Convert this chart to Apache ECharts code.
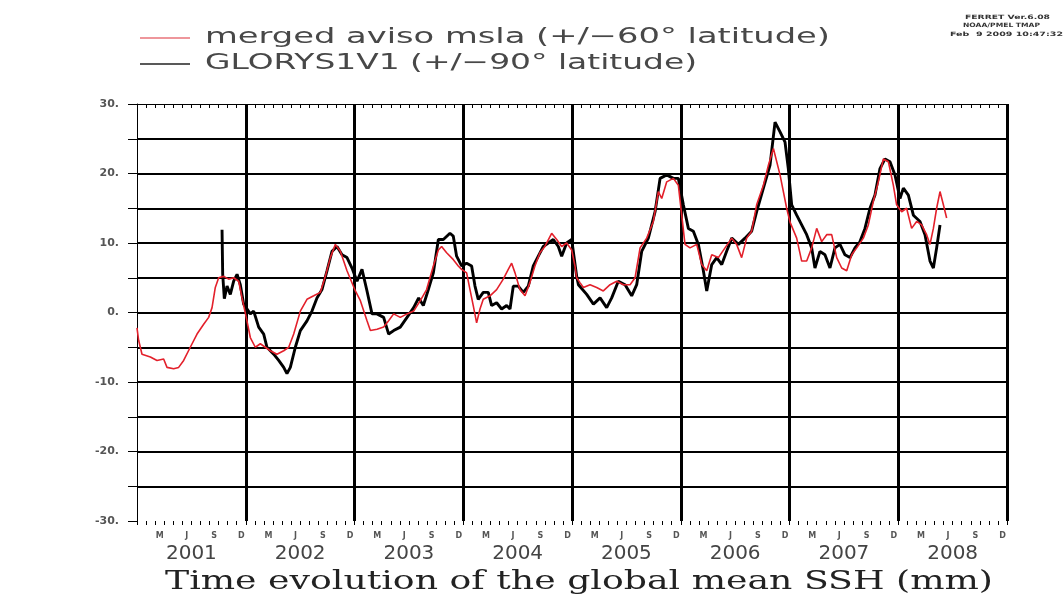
<!DOCTYPE html>
<html>
<head>
<meta charset="utf-8">
<script src="https://cdn.jsdelivr.net/npm/echarts@6/dist/echarts.min.js"></script>
<style>
html,body{margin:0;padding:0;background:#fff;}
#chart{width:1063px;height:598px;}
</style>
</head>
<body>
<div id="chart"></div>
<script>
// ---- data (decimal years, mm) ----
const redTimes = [2001.000,2001.015,2001.046,2001.123,2001.184,2001.245,2001.276,2001.337,2001.383,2001.429,2001.490,2001.552,2001.613,2001.659,2001.690,2001.720,2001.751,2001.797,2001.843,2001.889,2001.935,2001.966,
2002.011,2002.042,2002.088,2002.134,2002.180,2002.226,2002.287,2002.349,2002.395,2002.441,2002.502,2002.563,2002.625,2002.686,2002.732,2002.778,2002.824,2002.870,2002.931,
2003.008,2003.054,2003.115,2003.146,2003.207,2003.268,2003.314,2003.360,2003.421,2003.483,2003.544,2003.605,2003.663,2003.725,2003.771,2003.801,2003.847,2003.909,2003.954,2003.985,
2004.031,2004.062,2004.092,2004.123,2004.154,2004.184,2004.246,2004.307,2004.368,2004.414,2004.445,2004.476,2004.521,2004.568,2004.613,2004.659,2004.705,2004.751,2004.813,2004.859,2004.905,2004.951,2004.997,
2005.027,2005.043,2005.073,2005.105,2005.166,2005.227,2005.288,2005.350,2005.411,2005.472,2005.534,2005.580,2005.626,2005.687,2005.748,2005.794,2005.825,2005.871,2005.932,2005.978,
2006.009,2006.039,2006.085,2006.147,2006.193,2006.239,2006.285,2006.346,2006.407,2006.469,2006.514,2006.560,2006.606,2006.652,2006.698,2006.760,2006.806,2006.852,2006.913,2006.974,
2007.005,2007.066,2007.112,2007.158,2007.204,2007.250,2007.296,2007.342,2007.388,2007.434,2007.480,2007.526,2007.572,2007.618,2007.679,2007.725,2007.771,2007.817,2007.863,2007.909,2007.955,2007.985,
2008.031,2008.077,2008.123,2008.169,2008.215,2008.261,2008.292,2008.323,2008.353,2008.384,2008.415,2008.445];
const redValues = [-2.2,-4.0,-6.0,-6.4,-6.9,-6.7,-7.9,-8.1,-7.9,-6.9,-5.0,-3.1,-1.7,-0.7,0.7,3.6,5.0,5.2,4.8,5.0,4.5,2.1,
-1.2,-3.6,-5.0,-4.5,-5.0,-5.5,-6.0,-5.5,-5.0,-3.1,0.2,1.9,2.4,2.9,5.2,7.9,9.8,8.8,6.0,
3.1,1.7,-1.2,-2.6,-2.4,-2.1,-1.2,-0.2,-0.7,-0.2,0.2,1.7,3.3,6.7,9.0,9.5,8.6,7.6,6.7,6.2,
5.7,3.3,1.0,-1.5,0.5,1.9,2.4,3.3,4.8,6.2,7.1,5.7,3.3,2.4,4.3,6.7,8.6,9.5,11.4,10.5,9.5,10.0,9.0,
6.7,5.0,4.3,3.6,4.0,3.6,3.1,4.0,4.5,4.0,4.0,5.0,9.3,10.7,13.1,17.4,16.4,18.8,19.3,18.3,
14.0,9.8,9.3,9.8,6.9,6.0,8.3,7.9,9.3,10.7,9.8,7.9,10.7,11.7,15.5,18.3,21.2,23.6,19.8,15.0,
13.0,10.7,7.4,7.4,9.3,12.1,10.2,11.2,11.2,7.9,6.4,6.0,8.3,9.3,10.7,12.6,16.0,18.8,22.1,21.7,18.3,15.5,
14.5,15.0,12.1,13.1,12.6,11.2,9.8,12.1,15.0,17.4,15.5,13.6];

const blackTimes = [2001.782,2001.788,2001.803,2001.828,2001.858,2001.889,2001.920,2001.950,2001.981,
2002.042,2002.073,2002.119,2002.165,2002.195,2002.257,2002.303,2002.349,2002.379,2002.410,2002.456,2002.502,2002.563,2002.609,2002.655,2002.701,2002.747,2002.793,2002.839,2002.885,2002.931,2002.977,
2003.023,2003.069,2003.115,2003.161,2003.207,2003.268,2003.314,2003.360,2003.421,2003.483,2003.544,2003.590,2003.633,2003.679,2003.725,2003.771,2003.817,2003.878,2003.908,2003.939,2003.985,
2004.031,2004.077,2004.108,2004.138,2004.184,2004.230,2004.261,2004.307,2004.353,2004.399,2004.430,2004.460,2004.506,2004.552,2004.598,2004.644,2004.690,2004.736,2004.782,2004.828,2004.874,2004.905,2004.951,2004.997,
2005.043,2005.059,2005.135,2005.197,2005.258,2005.319,2005.365,2005.426,2005.488,2005.549,2005.595,2005.641,2005.702,2005.764,2005.810,2005.871,2005.932,2005.978,
2006.024,2006.070,2006.116,2006.162,2006.208,2006.239,2006.285,2006.331,2006.377,2006.422,2006.469,2006.530,2006.591,2006.652,2006.698,2006.760,2006.821,2006.867,2006.913,2006.959,2006.989,
2007.020,2007.066,2007.112,2007.158,2007.204,2007.234,2007.280,2007.326,2007.372,2007.418,2007.464,2007.510,2007.556,2007.602,2007.648,2007.694,2007.740,2007.786,2007.832,2007.878,2007.924,2007.970,
2008.016,2008.047,2008.093,2008.139,2008.200,2008.246,2008.292,2008.323,2008.353,2008.384];
const blackValues = [11.9,5.5,2.0,3.8,2.6,4.5,5.5,4.0,1.2,
-0.2,0.2,-2.1,-3.1,-5.0,-6.0,-6.9,-7.9,-8.8,-7.9,-5.0,-2.6,-1.2,0.2,2.1,3.3,6.0,8.8,9.5,8.3,7.9,6.4,
4.5,6.2,3.1,-0.2,-0.2,-0.7,-3.1,-2.6,-2.1,-0.7,0.7,2.1,1.0,3.3,5.7,10.5,10.5,11.4,11.0,8.1,6.7,
7.1,6.7,3.8,1.9,2.9,2.9,1.0,1.4,0.5,1.0,0.5,3.8,3.8,2.9,3.8,6.7,8.1,9.5,10.0,10.5,9.5,8.1,10.0,10.5,
5.2,4.0,2.6,1.2,2.1,0.7,2.1,4.5,4.0,2.4,4.0,8.8,10.7,14.5,19.3,19.8,19.3,19.3,
15.5,12.1,11.7,9.8,6.0,3.1,6.9,7.9,6.9,8.8,10.7,9.8,10.7,11.7,14.5,17.9,21.2,27.4,26.0,24.5,20.7,
15.5,14.0,12.6,11.2,9.3,6.4,8.8,8.3,6.4,9.3,9.8,8.3,7.9,9.3,10.2,12.1,15.0,16.9,20.7,22.1,21.7,19.8,
16.4,17.9,16.9,14.0,13.1,11.2,7.4,6.4,9.3,12.6];

const seriesNames = ['merged aviso msla (+/\u221260\u00b0 latitude)', 'GLORYS1V1 (+/\u221290\u00b0 latitude)'];
const monthLetters = ['J','F','M','A','M','J','J','A','S','O','N','D'];
const yearLabels = ['2001','2002','2003','2004','2005','2006','2007','2008'];
const yTickLabels = {30:'30.',20:'20.',10:'10.',0:'0.','-10':'-10.','-20':'-20.','-30':'-30.'};
const chartTitle = 'Time evolution of the global mean SSH (mm)';
const stampLines = ['FERRET Ver.6.08', 'NOAA/PMEL TMAP', 'Feb  9 2009 10:47:32'];

// ---- build ----
const zip = (a, b) => a.map((t, i) => [t, b[i]]);
const monthCats = [];
yearLabels.forEach(y => monthLetters.forEach(m => monthCats.push(m)));

const measureCtx = document.createElement('canvas').getContext('2d');
function fitScale(text, font, target) {
  measureCtx.font = font;
  return target / measureCtx.measureText(text).width;
}
const legendFont = '21px "DejaVu Sans"';
const titleFont = '26px "DejaVu Serif"';
const stampFont = 'bold 6px "DejaVu Sans"';

const chart = echarts.init(document.getElementById('chart'), null, {renderer: 'canvas'});

const legendItems = [
  {name: seriesNames[0], color: '#e8737a', y: 38, w: 625},
  {name: seriesNames[1], color: '#222', y: 64, w: 492}
];
const graphics = [];
legendItems.forEach(it => {
  graphics.push({type: 'line', shape: {x1: 140, y1: it.y, x2: 190, y2: it.y}, style: {stroke: it.color, lineWidth: 1.5}, silent: true});
  graphics.push({type: 'text', x: 205, y: it.y, scaleX: fitScale(it.name, legendFont, it.w),
    style: {text: it.name, font: legendFont, fill: '#484848', verticalAlign: 'middle'}, silent: true});
});
graphics.push({type: 'text', x: 165, y: 582, scaleX: fitScale(chartTitle, titleFont, 828),
  style: {text: chartTitle, font: titleFont, fill: '#222', verticalAlign: 'middle'}, silent: true});
const stampPos = [{x: 965, y: 17, w: 85}, {x: 963, y: 25, w: 77}, {x: 950, y: 34, w: 113}];
stampLines.forEach((s, i) => {
  graphics.push({type: 'text', x: stampPos[i].x, y: stampPos[i].y, scaleX: fitScale(s, stampFont, stampPos[i].w),
    style: {text: s, font: stampFont, fill: '#333', verticalAlign: 'middle'}, silent: true});
});

const option = {
  animation: false,
  backgroundColor: '#fff',
  grid: {left: 137, right: 56, top: 104, bottom: 77, containLabel: false},
  xAxis: [
    { // main time axis
      type: 'value', min: 2001, max: 2009, interval: 1, position: 'bottom',
      axisLine: {show: true, lineStyle: {color: '#000', width: 1}},
      axisTick: {show: true, length: 9, lineStyle: {color: '#000', width: 1}},
      axisLabel: {show: false},
      splitLine: {show: true, showMinLine: false, showMaxLine: true, lineStyle: {color: '#000', width: 3}}
    },
    { // month ticks and letters
      type: 'category', data: monthCats, position: 'bottom', boundaryGap: true,
      axisLine: {show: false},
      axisTick: {show: true, interval: 0, length: 4, lineStyle: {color: '#000'}},
      axisLabel: {show: true, interval: 0, margin: 11, fontSize: 8, fontWeight: 'bold', color: '#555',
        fontFamily: 'DejaVu Sans', formatter: (v, i) => (i % 3 === 2 ? v : '')},
      splitLine: {show: false}
    },
    { // year labels
      type: 'category', data: yearLabels, position: 'bottom', boundaryGap: true,
      axisLine: {show: false}, axisTick: {show: false},
      axisLabel: {show: true, interval: 0, margin: 23, fontSize: 20, color: '#444', fontFamily: 'DejaVu Sans'},
      splitLine: {show: false}
    },
    { // top border with month ticks
      type: 'category', data: monthCats, position: 'top', boundaryGap: true,
      axisLine: {show: true, lineStyle: {color: '#000', width: 1}},
      axisTick: {show: true, inside: true, interval: 0, length: 4, lineStyle: {color: '#000'}},
      axisLabel: {show: false}, splitLine: {show: false}
    }
  ],
  yAxis: {
    type: 'value', min: -30, max: 30, interval: 5,
    axisLine: {show: true, lineStyle: {color: '#000', width: 1}},
    axisTick: {show: true, length: 9, lineStyle: {color: '#000'}},
    axisLabel: {show: true, margin: 18, fontSize: 11, color: '#555', fontFamily: 'DejaVu Sans', fontWeight: 'bold',
      formatter: v => (yTickLabels[v] !== undefined ? yTickLabels[v] : '')},
    splitLine: {show: true, showMinLine: false, showMaxLine: false, lineStyle: {color: '#000', width: 2}}
  },
  series: [
    {
      name: seriesNames[1], type: 'line', xAxisIndex: 0, data: zip(blackTimes, blackValues),
      showSymbol: false, symbol: 'none', smooth: false,
      lineStyle: {color: '#000', width: 2.9}, z: 3
    },
    {
      name: seriesNames[0], type: 'line', xAxisIndex: 0, data: zip(redTimes, redValues),
      showSymbol: false, symbol: 'none', smooth: false,
      lineStyle: {color: '#e3202b', width: 1.6}, z: 4
    }
  ],
  graphic: graphics
};
chart.setOption(option);
</script>
</body>
</html>
